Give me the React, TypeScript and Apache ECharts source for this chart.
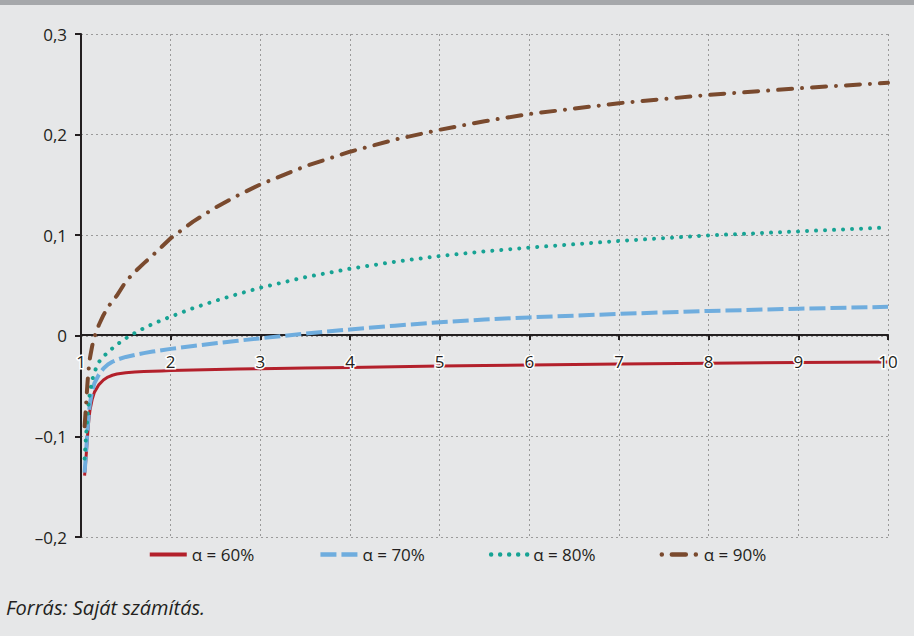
import React, { useEffect, useRef } from "react";
import * as echarts from "echarts";

const xValues = [1.04, 1.05, 1.06, 1.07, 1.08, 1.09, 1.1, 1.125, 1.15, 1.2, 1.25, 1.3, 1.35, 1.4, 1.5, 1.6, 1.7, 1.8, 1.9, 2, 2.25, 2.5, 2.75, 3, 3.5, 4, 4.5, 5, 5.5, 6, 7, 8, 9, 10];
const alpha60 = [-0.139, -0.128, -0.116, -0.103, -0.091, -0.081, -0.074, -0.063, -0.056, -0.0485, -0.044, -0.041, -0.0392, -0.038, -0.0367, -0.036, -0.0356, -0.0352, -0.0349, -0.0346, -0.034, -0.0335, -0.0331, -0.0327, -0.032, -0.0314, -0.0307, -0.0301, -0.0296, -0.0291, -0.0281, -0.0273, -0.0266, -0.026];
const alpha70 = [-0.136, -0.124, -0.111, -0.097, -0.085, -0.075, -0.067, -0.055, -0.047, -0.0385, -0.0325, -0.0285, -0.0258, -0.0238, -0.021, -0.019, -0.0172, -0.0157, -0.0143, -0.013, -0.0101, -0.0074, -0.0049, -0.0025, 0.0022, 0.0063, 0.0101, 0.0135, 0.0161, 0.0183, 0.0218, 0.0247, 0.0269, 0.0288];
const alpha80 = [-0.122, -0.108, -0.095, -0.083, -0.072, -0.063, -0.056, -0.044, -0.036, -0.026, -0.0205, -0.0165, -0.0125, -0.0088, -0.0025, 0.0028, 0.0075, 0.0118, 0.0155, 0.019, 0.0275, 0.0348, 0.0415, 0.0478, 0.0582, 0.0667, 0.0736, 0.0793, 0.0839, 0.0877, 0.0943, 0.0998, 0.1038, 0.1077];
const alpha90 = [-0.09, -0.077, -0.064, -0.05, -0.038, -0.029, -0.022, -0.01, -0.001, 0.011, 0.0205, 0.0285, 0.0345, 0.04, 0.054, 0.0635, 0.072, 0.08, 0.0885, 0.097, 0.1135, 0.1275, 0.1395, 0.1505, 0.1685, 0.183, 0.195, 0.2048, 0.2133, 0.2205, 0.2312, 0.2395, 0.246, 0.2515];
const seriesNames = ["α = 60%", "α = 70%", "α = 80%", "α = 90%"];
const sourceNote = "Forrás: Saját számítás.";

const FONT = "'Open Sans', sans-serif";
const INK = "#231f20";

function pairs(ys: number[]) {
  return xValues.map((x, i) => [x, ys[i]]);
}

function fmtY(v: number) {
  if (Math.abs(v) < 1e-9) return "0";
  return v.toFixed(1).replace(".", ",").replace("-", "–");
}

export default function App() {
  const ref = useRef<HTMLDivElement>(null);
  useEffect(() => {
    if (!ref.current) return;
    const chart = echarts.init(ref.current, undefined, { renderer: "svg" });
    const styles = [
      { color: "#b3202b", width: 3, type: "solid", cap: "butt" },
      { color: "#6fadde", width: 4, type: [16, 5], cap: "butt" },
      { color: "#17a394", width: 4, type: [0.01, 9], cap: "round" },
      { color: "#7a4a2e", width: 4, type: [14, 10, 0.01, 10], cap: "round" },
    ];
    const data = [alpha60, alpha70, alpha80, alpha90];
    chart.setOption({
      animation: false,
      backgroundColor: "#e6e7e8",
      textStyle: { fontFamily: FONT },
      grid: { left: 81, right: 26, top: 34, bottom: 99, containLabel: false },
      graphic: [
        { type: "rect", left: 0, top: 0, shape: { x: 0, y: 0, width: 914, height: 5 }, style: { fill: "#a6a8ab" } },
        {
          type: "text",
          left: 6,
          top: 597,
          style: { text: sourceNote, font: `italic 20px ${FONT}`, fill: INK },
        },
      ],
      legend: {
        left: "center",
        top: 541,
        itemWidth: 37,
        itemHeight: 10,
        itemGap: 64,
        itemStyle: { opacity: 0 },
        textStyle: { fontFamily: FONT, fontSize: 17, color: INK },
        data: seriesNames.map((n, i) =>
          i === 3
            ? { name: n, lineStyle: { width: 4.5, dashOffset: 24 } }
            : { name: n, lineStyle: { width: i === 0 ? 4 : 4.5 } }
        ),
      },
      xAxis: [
        {
          type: "value",
          min: 1,
          max: 10,
          interval: 1,
          offset: -202,
          axisLine: { onZero: false, lineStyle: { color: INK, width: 2 } },
          axisTick: { show: true, length: 5, lineStyle: { color: INK, width: 2 } },
          axisLabel: { show: false },
          splitLine: { show: true, lineStyle: { color: "#9a9a9a", width: 1, type: [2, 3] } },
        },
        {
          type: "value",
          position: "bottom",
          min: 1,
          max: 10,
          interval: 1,
          offset: -202,
          z: 20,
          axisLine: { show: false, onZero: false },
          axisTick: { show: false },
          splitLine: { show: false },
          axisLabel: {
            margin: 18,
            fontFamily: FONT,
            fontSize: 17,
            color: INK,
            textBorderColor: "#ffffff",
            textBorderWidth: 3,
          },
        },
      ],
      yAxis: {
        type: "value",
        min: -0.2,
        max: 0.3,
        interval: 0.1,
        axisLine: { show: true, onZero: false, lineStyle: { color: INK, width: 2 } },
        axisTick: { show: true, length: 6, lineStyle: { color: INK, width: 2 } },
        axisLabel: {
          margin: 14,
          fontFamily: FONT,
          fontSize: 17,
          color: INK,
          formatter: (v: number) => fmtY(v),
        },
        splitLine: { show: true, lineStyle: { color: "#9a9a9a", width: 1, type: [2, 3] } },
      },
      series: data.map((d, i) => ({
        name: seriesNames[i],
        type: "line",
        xAxisIndex: 0,
        data: pairs(d),
        symbol: "none",
        smooth: false,
        color: styles[i].color,
        lineStyle: {
          color: styles[i].color,
          width: styles[i].width,
          type: styles[i].type,
          cap: styles[i].cap,
          join: "round",
        },
        z: 2 + i,
      })),
    });
    return () => chart.dispose();
  }, []);
  return (
    <div
      ref={ref}
      style={{ position: "fixed", left: 0, top: 0, width: 914, height: 636 }}
    />
  );
}
